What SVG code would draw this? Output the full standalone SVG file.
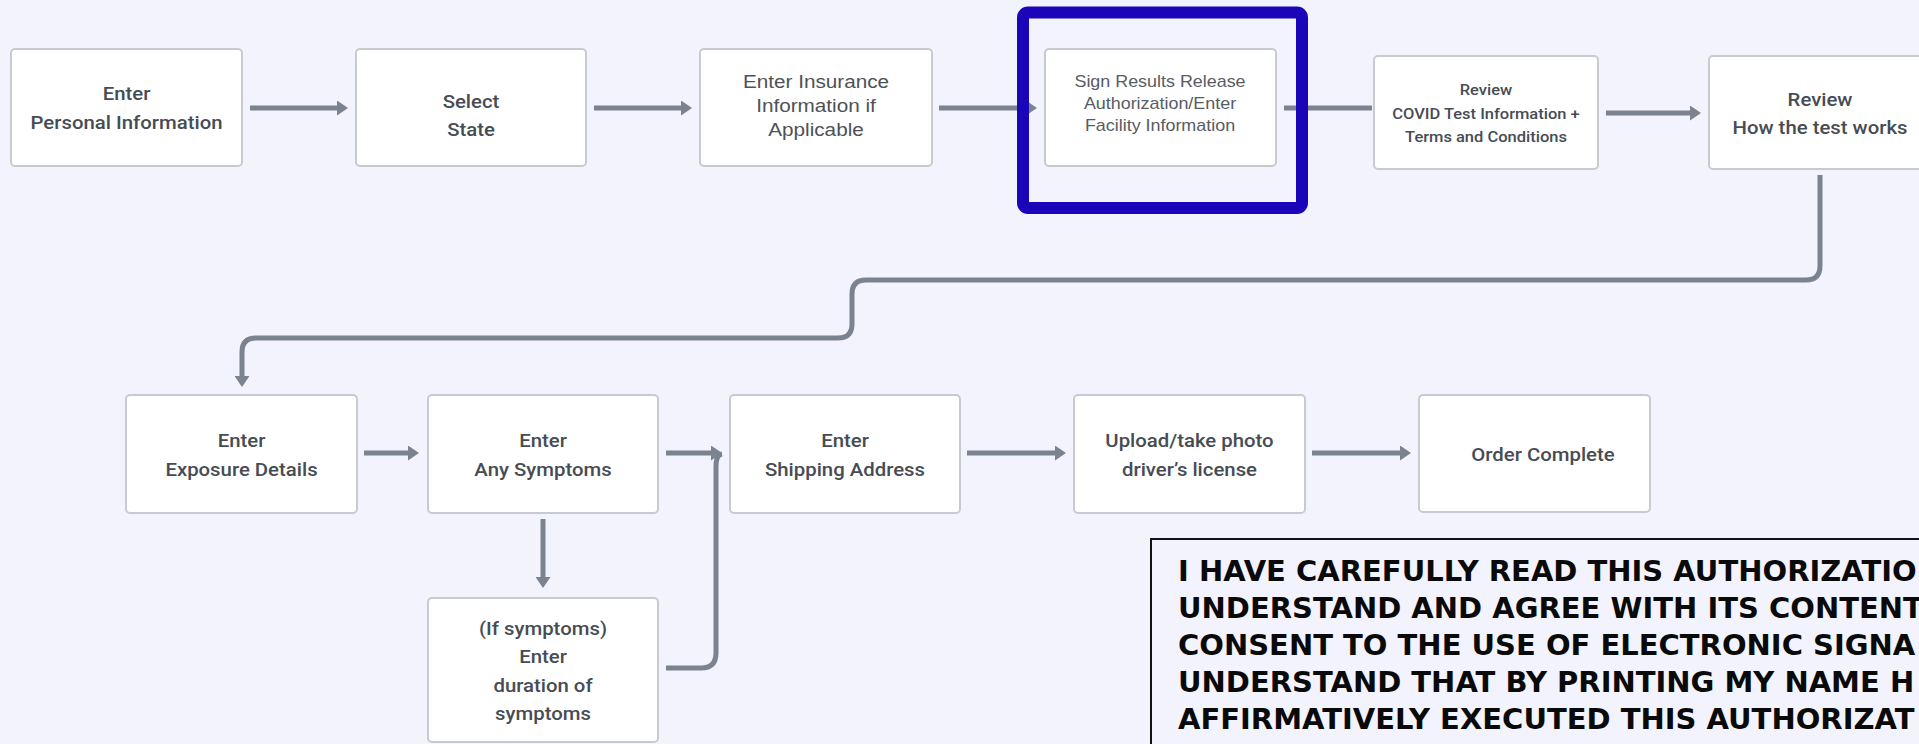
<svg xmlns="http://www.w3.org/2000/svg" width="1919" height="744" viewBox="0 0 1919 744">
  <defs>
    <marker id="head" markerUnits="userSpaceOnUse" markerWidth="12" markerHeight="15" refX="3" refY="7.5" orient="auto">
      <path d="M0,0 L11,7.5 L0,15 z" fill="#7b8290"/>
    </marker>
    <style>
      .bg { fill: #f2f3fc; }
      .box { fill: #ffffff; stroke: #c7cad1; stroke-width: 2; }
      .din { font-family: Roboto, "Liberation Sans", sans-serif; font-size: 18.5px; font-weight: 500; fill: #474c54; text-anchor: middle; }
      .din-sm { font-size: 15px; }
      .ari { font-family: "Liberation Sans", Arial, sans-serif; font-size: 18.5px; fill: #4d5158; text-anchor: middle; }
      .ari-sm { font-size: 16px; fill: #585c63; }
      .wire { fill: none; stroke: #7b8290; stroke-width: 5; }
      .arrow { marker-end: url(#head); }
      .focus { fill: none; stroke: #1b05b9; stroke-width: 12; }
      .notice { fill: #f3f3fd; stroke: #111111; stroke-width: 2; }
      .notice-text { font-family: "DejaVu Sans", sans-serif; font-weight: bold; font-size: 29px; fill: #0a0a0a; }
    </style>
  </defs>

  <rect class="bg" x="0" y="0" width="1919" height="744"/>

  <!-- connectors -->
  <g id="connectors">
    <path class="wire arrow" d="M250,108 H340"/>
    <path class="wire arrow" d="M594,108 H684"/>
    <path class="wire arrow" d="M939,108 H1029"/>
    <path class="wire" d="M1284,108 H1372"/>
    <path class="wire arrow" d="M1606,113 H1693"/>
    <path class="wire arrow" d="M1820,175 V266 Q1820,280 1806,280 H866 Q852,280 852,294 V324 Q852,338 838,338 H256 Q242,338 242,352 V379"/>
    <path class="wire arrow" d="M364,453 H411"/>
    <path class="wire arrow" d="M666,453 H714"/>
    <path class="wire arrow" d="M543,519 V580"/>
    <path class="wire" d="M666,668 H701 Q716,668 716,653 V466 Q716,455 722,454"/>
    <path class="wire arrow" d="M967,453 H1058"/>
    <path class="wire arrow" d="M1312,453 H1403"/>
  </g>

  <!-- top row -->
  <g id="personal-info">
    <rect class="box" x="11" y="49" width="231" height="117" rx="4"/>
    <text class="din" transform="translate(126.5 0) scale(1.1 1)"><tspan x="0" y="100">Enter</tspan><tspan x="0" y="129">Personal Information</tspan></text>
  </g>
  <g id="select-state">
    <rect class="box" x="356" y="49" width="230" height="117" rx="4"/>
    <text class="din" transform="translate(471 0) scale(1.1 1)"><tspan x="0" y="108">Select</tspan><tspan x="0" y="136">State</tspan></text>
  </g>
  <g id="insurance">
    <rect class="box" x="700" y="49" width="232" height="117" rx="4"/>
    <text class="ari" transform="translate(816 0) scale(1.12 1)"><tspan x="0" y="88">Enter Insurance</tspan><tspan x="0" y="112">Information if</tspan><tspan x="0" y="136">Applicable</tspan></text>
  </g>
  <g id="sign-release">
    <rect class="box" x="1045" y="49" width="231" height="117" rx="4"/>
    <text class="ari ari-sm" transform="translate(1160 0) scale(1.12 1)"><tspan x="0" y="87">Sign Results Release</tspan><tspan x="0" y="109">Authorization/Enter</tspan><tspan x="0" y="131">Facility Information</tspan></text>
  </g>
  <g id="focus-frame">
    <rect class="focus" x="1023" y="12.5" width="279" height="195.5" rx="5"/>
  </g>
  <g id="review-covid">
    <rect class="box" x="1374" y="56" width="224" height="113" rx="4"/>
    <text class="din din-sm" transform="translate(1486 0) scale(1.1 1)"><tspan x="0" y="95">Review</tspan><tspan x="0" y="119">COVID Test Information  +</tspan><tspan x="0" y="142">Terms and Conditions</tspan></text>
  </g>
  <g id="review-how">
    <rect class="box" x="1709" y="56" width="240" height="113" rx="4"/>
    <text class="din" transform="translate(1820 0) scale(1.1 1)"><tspan x="0" y="106">Review</tspan><tspan x="0" y="134">How the test works</tspan></text>
  </g>

  <!-- bottom row -->
  <g id="exposure">
    <rect class="box" x="126" y="395" width="231" height="118" rx="4"/>
    <text class="din" transform="translate(241.5 0) scale(1.1 1)"><tspan x="0" y="447">Enter</tspan><tspan x="0" y="476">Exposure Details</tspan></text>
  </g>
  <g id="symptoms">
    <rect class="box" x="428" y="395" width="230" height="118" rx="4"/>
    <text class="din" transform="translate(543 0) scale(1.1 1)"><tspan x="0" y="447">Enter</tspan><tspan x="0" y="476">Any Symptoms</tspan></text>
  </g>
  <g id="symptom-duration">
    <rect class="box" x="428" y="598" width="230" height="144" rx="4"/>
    <text class="din" transform="translate(543 0) scale(1.1 1)"><tspan x="0" y="635">(If symptoms)</tspan><tspan x="0" y="663">Enter</tspan><tspan x="0" y="692">duration of</tspan><tspan x="0" y="720">symptoms</tspan></text>
  </g>
  <g id="shipping">
    <rect class="box" x="730" y="395" width="230" height="118" rx="4"/>
    <text class="din" transform="translate(845 0) scale(1.1 1)"><tspan x="0" y="447">Enter</tspan><tspan x="0" y="476">Shipping Address</tspan></text>
  </g>
  <g id="license-photo">
    <rect class="box" x="1074" y="395" width="231" height="118" rx="4"/>
    <text class="din" transform="translate(1189.5 0) scale(1.1 1)"><tspan x="0" y="447">Upload/take photo</tspan><tspan x="0" y="476">driver’s license</tspan></text>
  </g>
  <g id="order-complete">
    <rect class="box" x="1419" y="395" width="231" height="117" rx="4"/>
    <text class="din" transform="translate(1543 0) scale(1.1 1)"><tspan x="0" y="461">Order Complete</tspan></text>
  </g>

  <!-- authorization statement -->
  <g id="authorization-note">
    <rect class="notice" x="1151" y="539" width="790" height="230"/>
    <text class="notice-text">
      <tspan x="1178" y="581">I HAVE CAREFULLY READ THIS AUTHORIZATIO</tspan>
      <tspan x="1178" y="618">UNDERSTAND AND AGREE WITH ITS CONTENT</tspan>
      <tspan x="1178" y="655">CONSENT TO THE USE OF ELECTRONIC SIGNA</tspan>
      <tspan x="1178" y="692">UNDERSTAND THAT BY PRINTING MY NAME H</tspan>
      <tspan x="1178" y="729">AFFIRMATIVELY EXECUTED THIS AUTHORIZAT</tspan>
    </text>
  </g>
</svg>
